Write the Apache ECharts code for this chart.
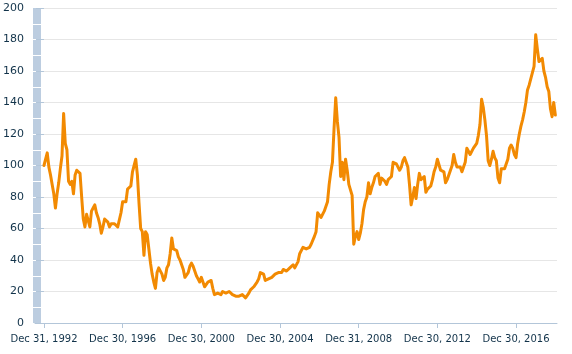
<!DOCTYPE html>
<html>
<head>
<meta charset="utf-8">
<script src="https://cdn.jsdelivr.net/npm/echarts@6/dist/echarts.min.js"></script>
<style>html,body{margin:0;padding:0;background:#fff}#c{width:572px;height:354px}</style>
</head>
<body>
<div id="c"></div>
<script>
// month offsets from Dec 1992 where x tick labels sit
const tickMonths = [0, 48, 96, 144, 192, 240, 288];
const tickLabels = ['Dec 31, 1992', 'Dec 30, 1996', 'Dec 30, 2000', 'Dec 30, 2004', 'Dec 31, 2008', 'Dec 30, 2012', 'Dec 30, 2016'];
const yTicks = [0, 20, 40, 60, 80, 100, 120, 140, 160, 180, 200];
// monthly values, starting Dec 1992
const values = [
100,101,108,99,94,88,82,73,82,89,98,106,
133,114,110,90,88,90,82,94,97,98,95,80,
66,61,69,68,61,71,73,75,70,67,63,57,
61,66,67,64,61,63,64,63,62,61,60,70,
77,76,77,85,86,87,96,100,104,94,76,60,
58,43,58,56,47,38,31,26,22,32,35,36,
31,27,29,35,37,44,54,47,47,46,42,40,
37,34,29,30,32,36,38,36,33,30,28,26,
29,29,23,24,26,27,27,22,18,18,19,18,
18,20,20,19,20,20,19,18,17,17,17,17,
17,18,17,16,17,19,21,22,23,24,26,28,
32,33,31,27,28,28,28,29,29,31,32,32,
31,32,34,33,33,33,35,36,37,35,35,39,
44,45,48,49,47,47,48,50,51,55,58,70,
69,67,68,71,72,77,88,96,102,124,143,128,
118,93,102,91,104,97,88,89,81,50,55,58,
53,57,63,72,77,80,89,82,86,89,93,94,
95,88,92,93,90,88,91,90,93,102,103,101,
100,97,99,103,105,104,99,88,75,80,86,79,
88,95,91,91,93,83,85,84,87,91,96,99,
104,103,97,96,96,89,91,94,97,100,107,102,
99,98,99,96,99,102,111,111,107,106,111,112,
114,119,126,142,137,129,119,103,100,104,109,105,
103,92,89,98,99,98,98,104,111,113,111,107,
105,114,120,125,129,134,140,148,151,155,159,163,
183,174,166,165,168,160,156,150,147,136,131,140,
132
];

const seriesData = values.map((v, i) => [i, v]);
const axisColor = '#b3c6d9';
const textColor = '#12334a';
const font = 'DejaVu Sans';

const chart = echarts.init(document.getElementById('c'), null, {renderer: 'canvas'});
chart.setOption({
  animation: false,
  grid: [
    {left: 33, right: 15, top: 8, bottom: 31},
    {left: 33, width: 8, top: 8, bottom: 31, z: 5}
  ],
  xAxis: [
    {
      type: 'value', gridIndex: 0, min: -5.47, max: 313,
      splitLine: {show: false},
      axisLine: {show: true, onZero: false, lineStyle: {color: axisColor, width: 1}},
      axisTick: {show: true, length: 5, lineStyle: {color: axisColor}, customValues: tickMonths},
      axisLabel: {
        customValues: tickMonths, margin: 11, color: textColor, fontFamily: font, fontSize: 10,
        formatter: (v) => { const k = tickMonths.indexOf(Math.round(v)); return k >= 0 ? tickLabels[k] : ''; }
      }
    },
    {type: 'value', gridIndex: 1, min: 0, max: 1, show: false}
  ],
  yAxis: [
    {
      type: 'value', gridIndex: 0, min: 0, max: 200, interval: 20,
      axisLine: {show: false},
      axisTick: {show: true, length: 8, lineStyle: {color: axisColor}},
      axisLabel: {margin: 11, color: textColor, fontFamily: font, fontSize: 11, formatter: (v) => yTicks.includes(v) ? String(v) : ''},
      splitLine: {show: true, lineStyle: {color: '#e6e6e6', width: 1}}
    },
    {
      type: 'value', gridIndex: 1, min: 0, max: 200, interval: 10,
      axisLine: {show: false}, axisTick: {show: false}, axisLabel: {show: false},
      splitArea: {show: true, areaStyle: {color: ['#bccde0', '#bccde0']}},
      splitLine: {show: true, showMinLine: false, showMaxLine: false, lineStyle: {color: '#ffffff', width: 1}}
    }
  ],
  series: [
    {
      type: 'line', xAxisIndex: 0, yAxisIndex: 0, data: seriesData,
      showSymbol: false, symbol: 'none',
      lineStyle: {color: '#f28a02', width: 3, join: 'round', cap: 'round'},
      z: 3
    },
    {type: 'line', xAxisIndex: 1, yAxisIndex: 1, data: [], silent: true}
  ]
});
</script>
</body>
</html>
